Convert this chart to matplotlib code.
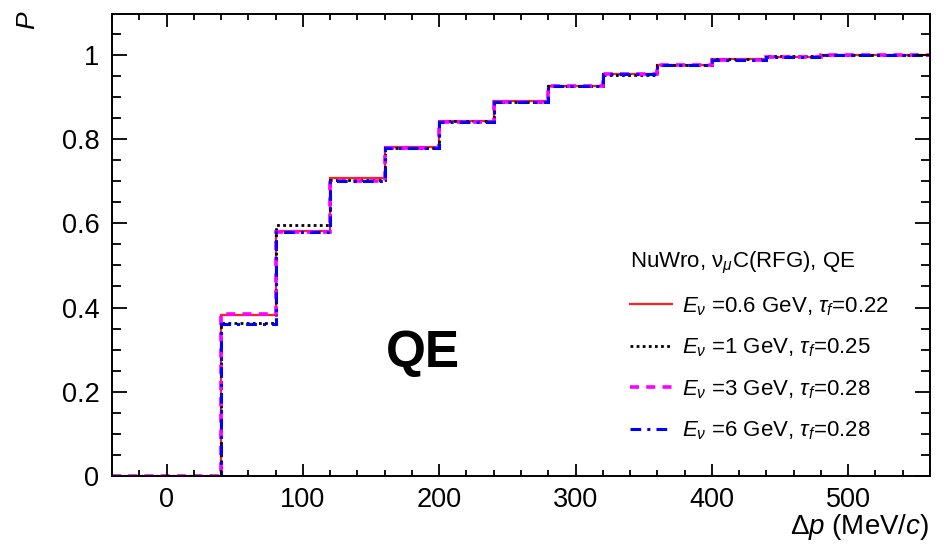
import numpy as np
import matplotlib.pyplot as plt
from matplotlib.ticker import MultipleLocator

plt.rcParams['font.family'] = ['Liberation Sans', 'DejaVu Sans']
plt.rcParams['mathtext.fontset'] = 'custom'
plt.rcParams['mathtext.rm'] = 'Liberation Sans'
plt.rcParams['mathtext.it'] = 'Liberation Sans:italic'

# bin edges in MeV/c (40 MeV/c bins)
edges = [-40, 0, 40, 80, 120, 160, 200, 240, 280, 320, 360, 400, 440, 480, 520, 560]

# cumulative probability per bin for each neutrino energy
p_06 = [0, 0, 0.382, 0.582, 0.707, 0.781, 0.843, 0.890, 0.926, 0.955, 0.975, 0.989, 0.996, 0.999, 1.0]
p_1 = [0, 0, 0.363, 0.596, 0.703, 0.779, 0.842, 0.889, 0.925, 0.953, 0.975, 0.989, 0.997, 0.999, 1.0]
p_3 = [0, 0, 0.384, 0.580, 0.700, 0.778, 0.841, 0.888, 0.925, 0.954, 0.975, 0.988, 0.996, 0.999, 1.0]
p_6 = [0, 0, 0.362, 0.580, 0.700, 0.778, 0.841, 0.888, 0.925, 0.954, 0.975, 0.988, 0.996, 0.999, 1.0]

labels = [r'$E_{\nu}$ =0.6 GeV, $\tau_{f}$=0.22',
          r'$E_{\nu}$ =1 GeV, $\tau_{f}$=0.25',
          r'$E_{\nu}$ =3 GeV, $\tau_{f}$=0.28',
          r'$E_{\nu}$ =6 GeV, $\tau_{f}$=0.28']

fig = plt.figure(figsize=(9.45, 5.48), dpi=100)
ax = fig.add_axes([112 / 945, 1 - 476 / 548, 818 / 945, 462 / 548])

ax.stairs(p_06, edges, baseline=None, color='#ff2020', lw=1.6, label=labels[0])
ax.stairs(p_1, edges, baseline=None, color='black', lw=2.0, ls=(0, (1, 1.2)), label=labels[1])
ax.stairs(p_3, edges, baseline=None, color='#ff00ff', lw=2.6, ls=(0, (2.5, 2.0)), label=labels[2])
ax.stairs(p_6, edges, baseline=None, color='#0000ff', lw=2.2, ls=(0, (3.5, 2, 1, 2)), label=labels[3])

ax.set_xlim(-40, 560)
ax.set_ylim(0, 1.097)

ax.xaxis.set_major_locator(MultipleLocator(100))
ax.xaxis.set_minor_locator(MultipleLocator(20))
ax.yaxis.set_minor_locator(MultipleLocator(0.05))
ax.set_yticks([0, 0.2, 0.4, 0.6, 0.8, 1.0])
ax.set_yticklabels(['0', '0.2', '0.4', '0.6', '0.8', '1'])

ax.tick_params(which='both', direction='in', top=True, right=True, width=1.3, labelsize=19.5)
ax.tick_params(axis='x', which='major', length=9, pad=8)
ax.tick_params(axis='x', which='minor', length=4.5)
ax.tick_params(axis='y', which='major', length=11, pad=9)
ax.tick_params(axis='y', which='minor', length=6.5)
for s in ax.spines.values():
    s.set_linewidth(1.4)

fig.text(929 / 945, 1 - 527 / 548, r'$\Delta p$ (MeV/$c$)', ha='right', va='center', fontsize=20)
fig.text(28 / 945, 1 - 20 / 548, r'$P$', ha='center', va='center', rotation=90, fontsize=19)

ax.text(188, 0.292, 'QE', ha='center', va='center', fontsize=37, fontweight='bold')

leg = ax.legend(title=r'NuWro, $\mathrm{\nu}_{\mu}$C(RFG), QE', frameon=False, fontsize=16,
                title_fontsize=16, alignment='left', handlelength=1.9,
                handletextpad=0.45, labelspacing=0.85,
                loc='upper left', bbox_to_anchor=(610 / 945, 1 - 230 / 548),
                bbox_transform=fig.transFigure)

fig.savefig('out.png', dpi=100)
